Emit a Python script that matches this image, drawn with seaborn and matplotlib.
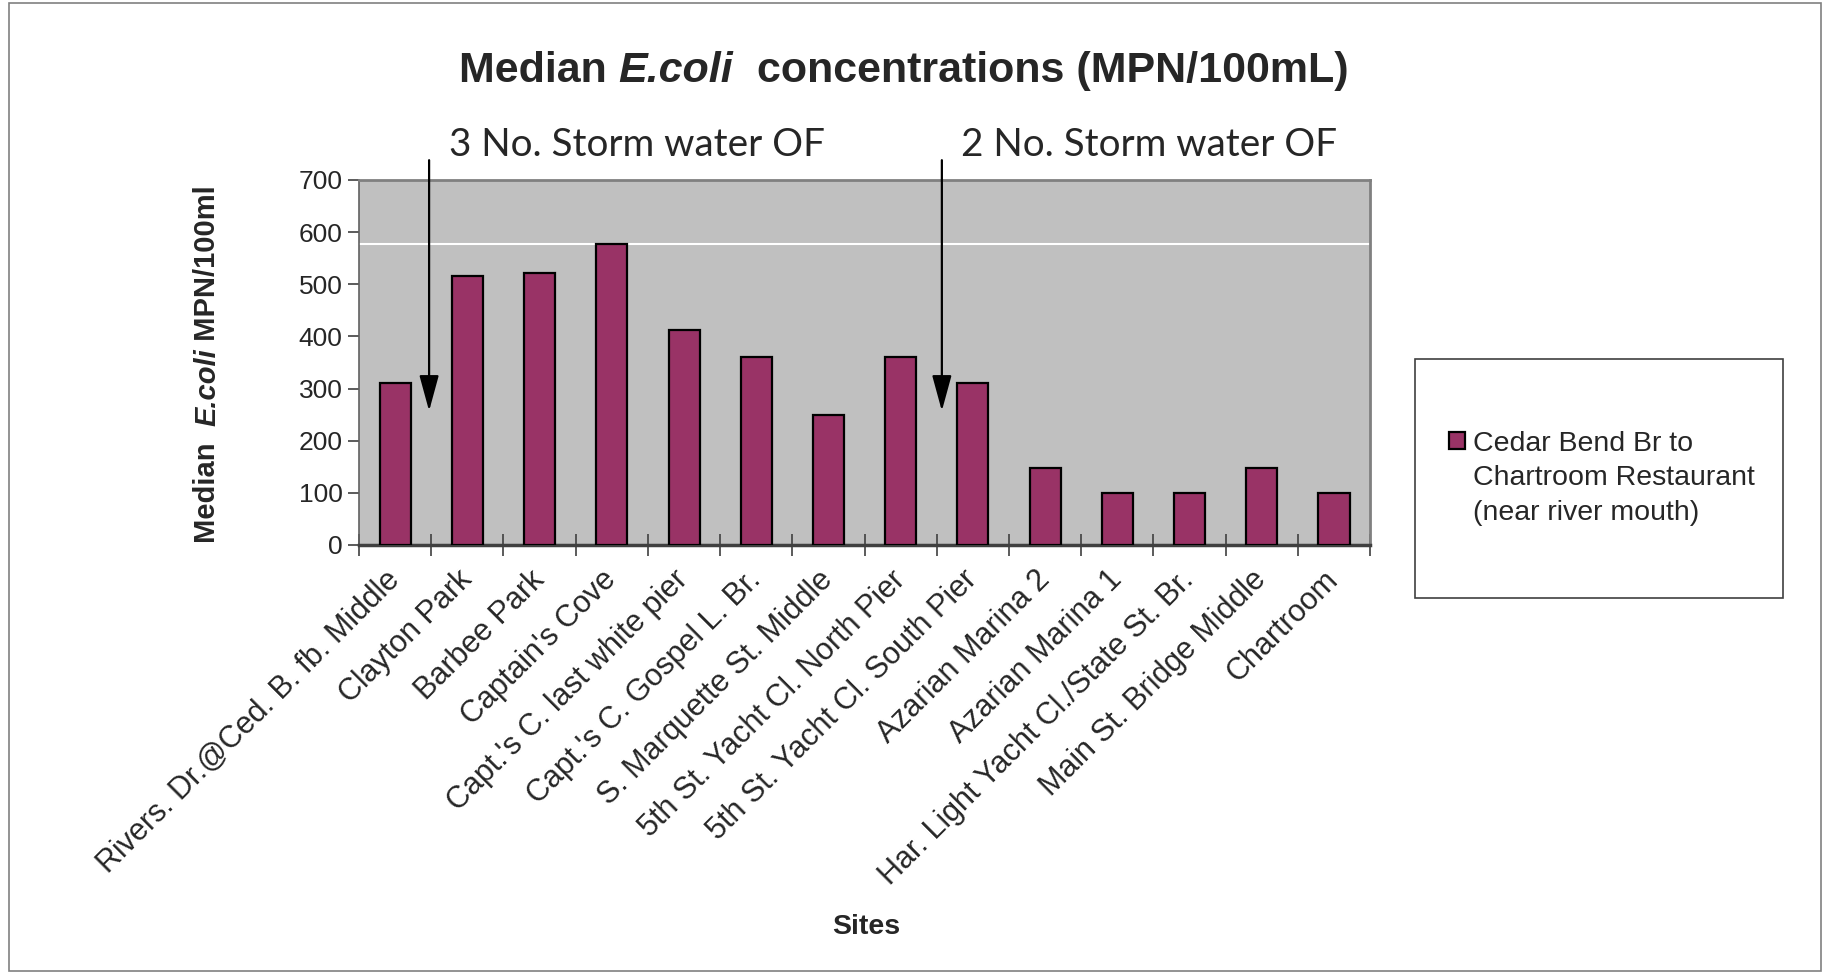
import matplotlib
matplotlib.use("Agg")
import matplotlib.pyplot as plt
import seaborn as sns
import pandas as pd
from matplotlib.patches import Rectangle, Patch

# Datos: mediana de E.coli por sitio
sites = ["Rivers. Dr.@Ced. B. fb. Middle", "Clayton Park", "Barbee Park", "Captain's Cove",
         "Capt.'s C. last white pier", "Capt.'s C. Gospel L. Br.", "S. Marquette St. Middle",
         "5th St. Yacht Cl. North Pier", "5th St. Yacht Cl. South Pier", "Azarian Marina 2",
         "Azarian Marina 1", "Har. Light Yacht Cl./State St. Br.", "Main St. Bridge Middle",
         "Chartroom"]
medians = [310, 515, 522, 578, 412, 360, 250, 360, 310, 148, 100, 100, 148, 100]
series_name = ["Cedar Bend Br to", "Chartroom Restaurant", "(near river mouth)"]
y_ticks = [0, 100, 200, 300, 400, 500, 600, 700]

# notas de desagües pluviales y su posición entre sitios
notes = ["3 No. Storm water OF", "2 No. Storm water OF"]
note_pos = [0.47, 7.57]

# título y etiqueta Y en trozos (normal / cursiva / normal)
title_parts = ["Median ", "E.coli", "  concentrations (MPN/100mL)"]
ylabel_parts = ["Median  ", "E.coli", " MPN/100ml"]
styles = ["normal", "italic", "normal"]

df = pd.DataFrame({"Sitio": sites, "Mediana": medians})

sns.set_style("white")
plt.rcParams["font.family"] = ["Liberation Sans", "DejaVu Sans"]

fig = plt.figure(figsize=(18.3, 9.74), dpi=100)
ax = fig.add_axes([0.1962, 0.4405, 0.5525, 0.3747])
ax.set_facecolor("#C0C0C0")

sns.barplot(data=df, x="Sitio", y="Mediana", color="#993366", edgecolor="black",
            linewidth=1.6, width=0.43, saturation=1, ax=ax, zorder=3)

# línea blanca en el máximo
ax.axhline(max(medians), color="white", lw=1.5, zorder=2)

ax.set_xlim(-0.5, len(sites) - 0.5)
ax.set_ylim(y_ticks[0], y_ticks[-1])
ax.set_yticks(y_ticks)
ax.tick_params(axis="y", direction="out", length=8, width=1.2, color="#404040",
               labelsize=19, pad=4, left=True)
ax.set_xticks(range(len(sites)))
ax.set_xticklabels(sites, rotation=45, ha="right", va="center", rotation_mode="anchor")
ax.tick_params(axis="x", which="major", length=0, labelsize=22, pad=22)
ax.set_xticks([i - 0.5 for i in range(len(sites) + 1)], minor=True)
ax.tick_params(axis="x", which="minor", direction="inout", length=16, width=1.2,
               color="#404040", bottom=True)

for s in ["top", "right"]:
    ax.spines[s].set_color("#808080")
    ax.spines[s].set_linewidth(2)
ax.spines["left"].set_color("#606060")
ax.spines["left"].set_linewidth(1.2)
ax.spines["bottom"].set_color("#404040")
ax.spines["bottom"].set_linewidth(2.5)

ax.set_ylabel("")
ax.set_xlabel("Sites", fontsize=20.5, fontweight="bold", va="center")
ax.xaxis.set_label_coords(0.502, -1.047)

# título (trozos encadenados)
tx, ty = 0.2508, 0.9163
prev = fig.text(tx, ty, title_parts[0], fontsize=31, fontweight="bold",
                ha="left", va="baseline")
for part, st in zip(title_parts[1:], styles[1:]):
    prev = ax.annotate(part, xy=(1, ty), xycoords=(prev, "figure fraction"),
                       fontsize=31, fontweight="bold", style=st,
                       ha="left", va="baseline", annotation_clip=False)

# etiqueta del eje Y (rotada, trozos encadenados)
lx, ly = 0.1175, 0.4425
prev = fig.text(lx, ly, ylabel_parts[0], fontsize=21, fontweight="bold", rotation=90,
                rotation_mode="anchor", ha="left", va="baseline")
for part, st in zip(ylabel_parts[1:], styles[1:]):
    prev = ax.annotate(part, xy=(lx, 1), xycoords=("figure fraction", prev),
                       fontsize=21, fontweight="bold", style=st, rotation=90,
                       rotation_mode="anchor", ha="left", va="baseline",
                       annotation_clip=False)

# flechas y notas
for txt, xp in zip(notes, note_pos):
    ax.annotate("", xy=(xp, 257), xytext=(xp, 738), annotation_clip=False,
                arrowprops=dict(arrowstyle="-|>,head_length=1.1,head_width=0.3",
                                mutation_scale=20, color="black", lw=1.6,
                                shrinkA=0, shrinkB=0))
    ax.text(xp + 0.27, 767, txt, fontsize=27.8, family=["Lato", "DejaVu Sans"],
            ha="left", va="center", clip_on=False)

# leyenda
handles = [Patch(facecolor="#993366", edgecolor="black", linewidth=1.6),
           Patch(alpha=0), Patch(alpha=0)]
fig.legend(handles, series_name, loc="upper left", bbox_to_anchor=(0.7918, 0.5577),
           bbox_transform=fig.transFigure, frameon=False, fontsize=20.5,
           handlelength=0.56, handleheight=0.56, handletextpad=0.3,
           labelspacing=0.3, borderpad=0, borderaxespad=0)
fig.patches.append(Rectangle((1415 / 1830, 1 - 598 / 974), 368 / 1830, 239 / 974,
                             transform=fig.transFigure, fill=False, ec="#404040", lw=1.2))
fig.patches.append(Rectangle((0.005, 0.003), 0.99, 0.994, transform=fig.transFigure,
                             fill=False, ec="#808080", lw=1.2))

fig.savefig("out.png", dpi=100)
